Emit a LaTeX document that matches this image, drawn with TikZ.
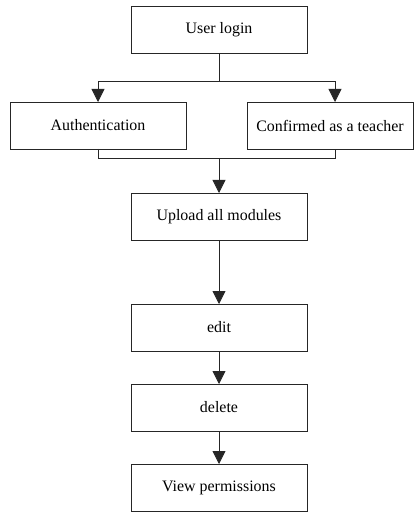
\documentclass[tikz,border=0pt]{standalone}
\usepackage{fontspec}
\setmainfont{Liberation Serif}
\usetikzlibrary{arrows.meta}
\begin{document}
\begin{tikzpicture}[x=1bp,y=-1bp,
  box/.style={draw=black!85,line width=0.8bp,minimum width=176bp,minimum height=47bp,
    inner sep=0pt,outer sep=0pt,font=\fontsize{16}{18}\selectfont,anchor=north west},
  flow/.style={draw=black!85,line width=0.8bp},
  arr/.style={flow,-{Triangle[length=13bp,width=13bp]}}]
  \useasboundingbox (0,0) rectangle (415,512);
  % boxes positioned by their top-left corners
  \node[box] (login) at (131,6) {User login};
  \node[box] (auth) at (10,102) {Authentication};
  \node[box,minimum width=166bp] (teach) at (247,102) {Confirmed as a teacher};
  \node[box] (upload) at (131,193) {Upload all modules};
  \node[box] (edit) at (131,304) {edit};
  \node[box] (del) at (131,384) {delete};
  \node[box] (view) at (131,464) {View permissions};
  % split from login into the two checks
  \coordinate (split) at (login.south |- 0,81);
  \draw[flow] (login.south) -- (split);
  \draw[arr] (split) -| (auth.north);
  \draw[arr] (split) -| ([xshift=5bp]teach.north);
  % merge of both checks into the upload step
  \coordinate (merge) at (login.south |- 0,158);
  \draw[flow] (auth.south) |- ([xshift=5bp]teach.south |- merge) -- ([xshift=5bp]teach.south);
  \draw[arr] (merge) -- (upload.north);
  % remaining linear sequence
  \draw[arr] (upload) -- (edit);
  \draw[arr] (edit) -- (del);
  \draw[arr] (del) -- (view);
\end{tikzpicture}
\end{document}
